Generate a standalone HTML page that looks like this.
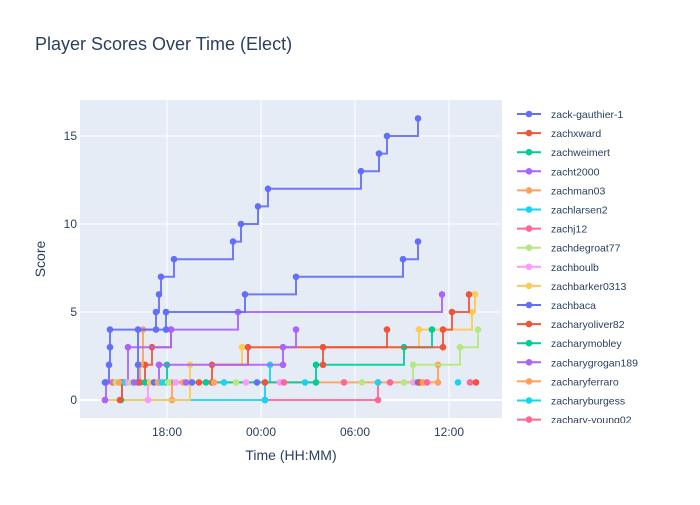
<!DOCTYPE html>
<html><head><meta charset="utf-8"><style>
body{margin:0;background:#fff;font-family:"Liberation Sans","DejaVu Sans",sans-serif}
svg text{font-family:"Liberation Sans","DejaVu Sans",sans-serif;fill:#2a3f5f}
</style></head><body>
<svg id="s" width="700" height="500" xmlns="http://www.w3.org/2000/svg">
<rect width="700" height="500" fill="#fff"/>
<text x="35" y="50" font-size="18">Player Scores Over Time (Elect)</text>
<rect x="80" y="100" width="422" height="318" fill="#e5ecf6"/>
<g stroke="#fff" stroke-width="1">
<line x1="80" x2="502" y1="400" y2="400" stroke-width="2"/>
<line x1="80" x2="502" y1="312" y2="312"/>
<line x1="80" x2="502" y1="224" y2="224"/>
<line x1="80" x2="502" y1="136" y2="136"/>
<line x1="167" x2="167" y1="100" y2="418"/>
<line x1="261" x2="261" y1="100" y2="418"/>
<line x1="355" x2="355" y1="100" y2="418"/>
<line x1="449" x2="449" y1="100" y2="418"/>
</g>
<g font-size="12" text-anchor="end">
<text x="77" y="404">0</text><text x="77" y="316">5</text><text x="77" y="228">10</text><text x="77" y="140">15</text>
</g>
<g font-size="12" text-anchor="middle">
<text x="167" y="436">18:00</text><text x="261" y="436">00:00</text><text x="355" y="436">06:00</text><text x="449" y="436">12:00</text>
</g>
<text x="291" y="460" font-size="14" text-anchor="middle">Time (HH:MM)</text>
<text x="45" y="259" font-size="14" text-anchor="middle" transform="rotate(-90 45 259)">Score</text>
<g id="plot"></g>
<g id="leg"></g>
</svg>
<script>
var C=["#636efa","#EF553B","#00cc96","#ab63fa","#FFA15A","#19d3f3","#FF6692","#B6E880","#FF97FF","#FECB52"];
function Y(v){return 400-17.6*v;}
var series=[
[C[4],[[172,0],[172,1],[438,1],[438,2]]],
[C[6],[[265,0],[378,0],[378,1]]],
[C[5],[[105,0],[265,0],[265,1],[270,2]]],
[C[9],[[105,0],[190,1],[190,2],[242,3],[419,4],[472,5],[475,6]]],
[C[7],[[413,1],[413,2],[460,3],[478,4]]],
[C[2],[[121,0],[122,1],[316,1],[316,2],[404,3],[432,4]]],
[C[2],[[166,1],[167,2]]],
[C[1],[[120,0],[122,1],[145,2],[152,3],[171,4]]],
[C[1],[[212,1],[212,2],[248,3],[387,4]]],
[C[1],[[323,2],[323,3],[443,3],[443,4],[452,5],[469,6]]],
[C[4],[[112,1],[140,2],[143,4]]],
[C[3],[[159,1],[159,2],[283,2],[283,3],[296,4]]],
[C[3],[[105,0],[106,1],[128,3],[171,4],[238,5],[442,6]]],
[C[8],[[148,0],[148,1]]],
[C[0],[[138,1],[138,2],[138,4],[166,4],[166,5],[245,6],[296,7],[403,8],[418,9]]],
[C[0],[[105,1],[109,2],[110,3],[110,4],[156,4],[156,5],[159,6],[161,7],[174,8],[233,9],[241,10],[258,11],[268,12],[361,13],[379,14],[387,15],[418,16]]]
];
var h="";
series.forEach(function(s){
var p=s[1],d="M"+p[0][0]+","+Y(p[0][1]);
for(var i=1;i<p.length;i++){d+="H"+p[i][0]+"V"+Y(p[i][1]);}
h+='<path d="'+d+'" fill="none" stroke="'+s[0]+'" stroke-width="2" opacity="0.9"/>';
p.forEach(function(q){h+='<circle cx="'+q[0]+'" cy="'+Y(q[1])+'" r="3.3" fill="'+s[0]+'"/>';});
});
var dots=[[113,6],[116,7],[119,4],[125,5],[128,8],[131,7],[134,3],[140,1],[145,2],[150,9],[154,0],[158,4],[162,5],[168,7],[176,8],[183,4],[186,3],[192,0],[199,1],[206,2],[214,4],[224,5],[236,7],[246,8],[257,0],[265,1],[280,8],[284,6],[305,5],[344,6],[362,7],[378,5],[390,6],[404,7],[414,8],[418,0],[420,1],[423,4],[427,6],[458,5],[470,6],[476,1]];
dots.forEach(function(q){h+='<circle cx="'+q[0]+'" cy="382.4" r="3.3" fill="'+C[q[1]]+'"/>';});
document.getElementById("plot").innerHTML=h;
var names=["zack-gauthier-1","zachxward","zachweimert","zacht2000","zachman03","zachlarsen2","zachj12","zachdegroat77","zachboulb","zachbarker0313","zachbaca","zacharyoliver82","zacharymobley","zacharygrogan189","zacharyferraro","zacharyburgess","zachary-young02"];
var l="";
names.forEach(function(n,i){var y=114+i*19.1;var c=C[i%10];
l+='<line x1="517" x2="541" y1="'+y+'" y2="'+y+'" stroke="'+c+'" stroke-width="2"/><circle cx="529" cy="'+y+'" r="3.3" fill="'+c+'"/><text x="551" y="'+(y+4)+'" font-size="10.5">'+n+'</text>';});
document.getElementById("leg").innerHTML='<svg x="0" y="0" width="700" height="423">'+l+'</svg>';
</script>
</body></html>
